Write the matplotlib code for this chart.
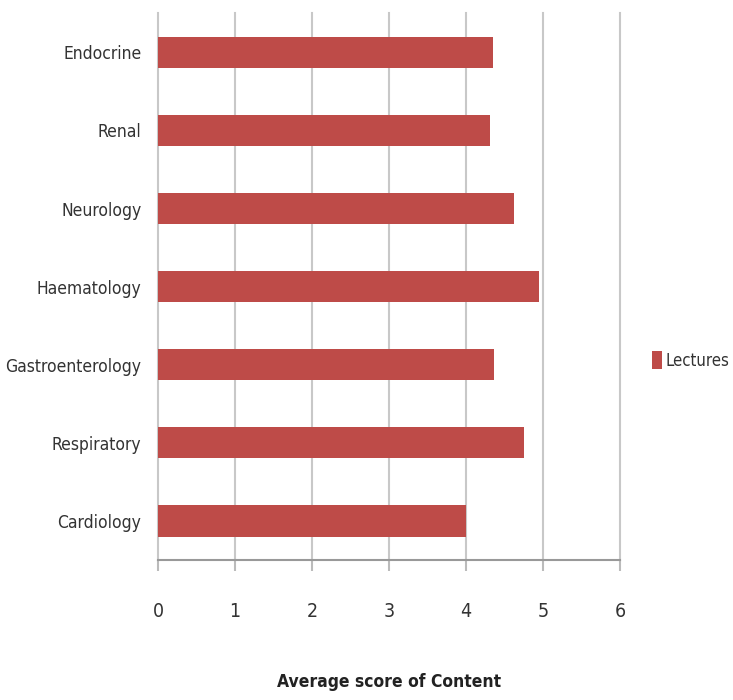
import matplotlib as mpl
mpl.use('Agg')
import matplotlib.pyplot as plt
import numpy as np

categories = ['Cardiology', 'Respiratory', 'Gastroenterology', 'Haematology',
              'Neurology', 'Renal', 'Endocrine']
lectures = [4.0, 4.75, 4.37, 4.95, 4.63, 4.31, 4.35]
xticks = [0, 1, 2, 3, 4, 5, 6]

plt.rcParams['font.family'] = ['DejaVu Sans']
plt.rcParams['font.stretch'] = 'condensed'

fig = plt.figure(figsize=(7.33, 7.0), dpi=100)
ax = fig.add_axes([0.2156, 0.2, 0.63, 0.781])

y = np.arange(len(categories))
bars = ax.barh(y, lectures, height=0.4, color='#BE4B48', label='Lectures', zorder=3)

ax.set_xlim(0, 6)
ax.set_ylim(-0.5, len(categories) - 0.5)
ax.set_xticks(xticks)
ax.set_xticklabels([str(t) for t in xticks], fontsize=14, color='#333333')
ax.set_yticks(y)
ax.set_yticklabels(categories, fontsize=12.5, color='#333333')

ax.grid(axis='x', color='#C8C8C8', linewidth=1.5, zorder=0)
for gl in ax.xaxis.get_gridlines():
    gl.set_clip_on(False)
for s in ['top', 'right', 'left']:
    ax.spines[s].set_visible(False)
ax.spines['bottom'].set_color('#999999')
ax.spines['bottom'].set_linewidth(1.5)
ax.tick_params(axis='x', length=8, width=1.5, color='#BBBBBB', pad=22)
ax.tick_params(axis='y', length=0, pad=12)

ax.set_xlabel('Average score of Content', fontsize=12.5, fontweight='bold',
              color='#222222', labelpad=38)

fig.legend(handles=[bars], labels=['Lectures'], loc='center left',
           bbox_to_anchor=(0.89, 0.485), frameon=False, fontsize=12,
           handlelength=0.6, handleheight=1.3, handletextpad=0.2,
           labelcolor='#333333', borderpad=0, borderaxespad=0)

fig.savefig('out.png', dpi=100)
plt.close()
